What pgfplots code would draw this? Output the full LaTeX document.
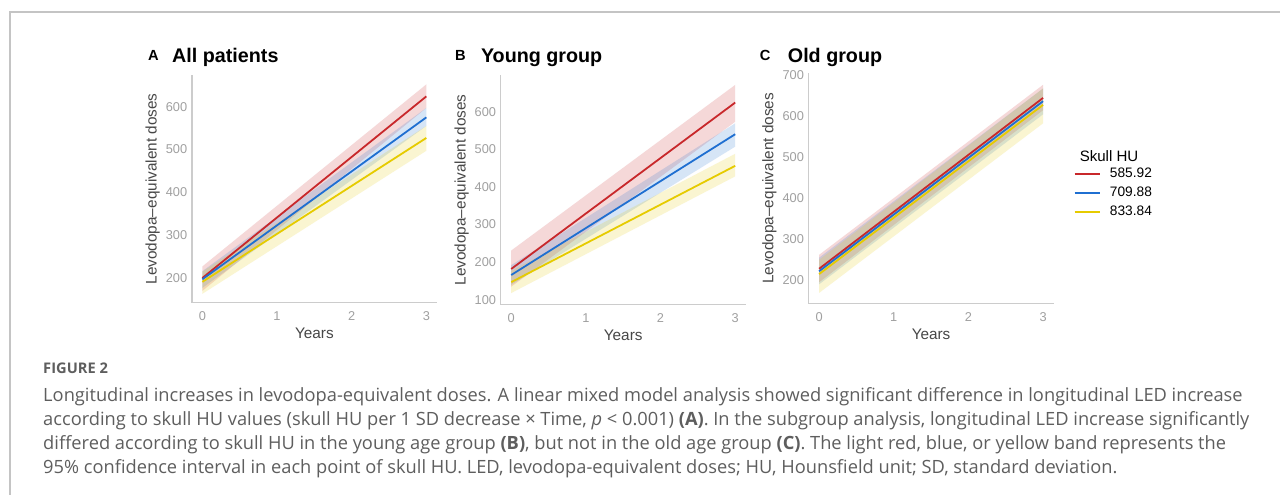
\documentclass[border=0pt]{standalone}
\usepackage{fontspec}
\setmainfont{Liberation Sans}
\newfontfamily\capfont{Open Sans}
\usepackage{pgfplots}
\pgfplotsset{compat=1.18}
\definecolor{cred}{HTML}{C8282B}
\definecolor{cblue}{HTML}{1F6FD1}
\definecolor{cyel}{HTML}{E6CB00}
\definecolor{axgray}{HTML}{CCCCCC}
\definecolor{tickgray}{HTML}{A0A0A0}
\definecolor{labgray}{HTML}{474747}
\definecolor{framegray}{HTML}{C4C4C4}
\definecolor{captext}{HTML}{5E5E5E}
\pgfplotsset{
  panel/.style={
    scale only axis, width=183.75pt, anchor=south west,
    xmin=-0.14, xmax=3.14, xtick={0,1,2,3},
    axis lines=left, axis line style={draw=axgray, line width=0.9pt, -},
    major tick length=0pt,
    tick label style={font=\fontsize{9.6}{10}\selectfont, text=tickgray},
    xticklabel style={yshift=-3pt},
    /pgf/number format/assume math mode=true,
    xlabel={Years}, ylabel={Levodopa–equivalent doses},
    label style={font=\fontsize{11.5}{13}\selectfont, text=labgray},
    xlabel style={at={(axis description cs:0.5,0)}, anchor=north, yshift=-15.5pt},
    ylabel style={at={(axis description cs:-0.16,0.5)}, anchor=center, rotate=0},
    clip=false,
  },
  band/.style={draw=none, fill=#1, fill opacity=0.18, forget plot},
  ln/.style={draw=#1, line width=1.35pt, no marks},
}
\begin{document}
\begin{tikzpicture}
\begin{scope}[x=0.75pt,y=0.75pt]
\fill[white] (0,0) rectangle (1281,495);
\draw[framegray, line width=0.9pt] (10,0) -- (10,483) -- (1281,483);
\end{scope}

% Panel A
\begin{axis}[panel, at={(144pt,144pt)}, height=171pt, ymin=142, ymax=674, ytick={200,300,400,500,600}]
\addplot[band=cred] coordinates {(0,170) (3,597) (3,652) (0,227)} -- cycle;
\addplot[band=cblue] coordinates {(0,177) (3,555) (3,597) (0,216)} -- cycle;
\addplot[band=cyel] coordinates {(0,163) (3,497) (3,555) (0,215)} -- cycle;
\addplot[ln=cred] coordinates {(0,200) (3,624)};
\addplot[ln=cblue] coordinates {(0,197) (3,575)};
\addplot[ln=cyel] coordinates {(0,191) (3,527)};
\end{axis}

% Panel B
\begin{axis}[panel, at={(375.75pt,142.5pt)}, height=172.5pt, ymin=86.7, ymax=697.4, ytick={100,200,300,400,500,600}]
\addplot[band=cred] coordinates {(0,135) (3,573) (3,671) (0,231)} -- cycle;
\addplot[band=cblue] coordinates {(0,140) (3,507) (3,569) (0,192)} -- cycle;
\addplot[band=cyel] coordinates {(0,118) (3,428) (3,488) (0,177)} -- cycle;
\addplot[ln=cred] coordinates {(0,182) (3,624)};
\addplot[ln=cblue] coordinates {(0,166) (3,540)};
\addplot[ln=cyel] coordinates {(0,147) (3,456)};
\end{axis}

% Panel C
\begin{axis}[panel, at={(606.75pt,143.25pt)}, height=173.25pt, ymin=142.4, ymax=705.9, ytick={200,300,400,500,600,700},
  legend style={at={(axis description cs:1.081,0.60)}, anchor=north west, draw=none, fill=none,
    font=\fontsize{10.3}{12}\selectfont, text=black, row sep=1.6pt, inner sep=0pt,
    /tikz/every odd column/.append style={column sep=5pt}},
  legend cell align=left,
  legend image code/.code={\draw[#1, line width=1.5pt] (0pt,0pt) -- (18.75pt,0pt);}]
\addplot[band=cred] coordinates {(0,195) (3,615) (3,677) (0,262)} -- cycle;
\addplot[band=cblue] coordinates {(0,190) (3,605) (3,668) (0,255)} -- cycle;
\addplot[band=cyel] coordinates {(0,169) (3,583) (3,668) (0,250)} -- cycle;
\addplot[ln=cred] coordinates {(0,228) (3,645)};
\addplot[ln=cblue] coordinates {(0,222) (3,637)};
\addplot[ln=cyel] coordinates {(0,215) (3,628)};
\legend{585.92,709.88,833.84}
\end{axis}

\begin{scope}[x=0.75pt,y=0.75pt]
\node[anchor=base west, inner sep=0pt, font=\fontsize{11.3}{12}\selectfont] at (1080,333) {Skull HU};

% titles
\node[anchor=base west, inner sep=0pt, font=\fontsize{11}{12}\selectfont\bfseries] at (148,434) {A};
\node[anchor=base west, inner sep=0pt, font=\fontsize{14.8}{16}\selectfont\bfseries] at (172,432) {All patients};
\node[anchor=base west, inner sep=0pt, font=\fontsize{11}{12}\selectfont\bfseries] at (455,434) {B};
\node[anchor=base west, inner sep=0pt, font=\fontsize{14.8}{16}\selectfont\bfseries] at (481,432) {Young group};
\node[anchor=base west, inner sep=0pt, font=\fontsize{11}{12}\selectfont\bfseries] at (760,434) {C};
\node[anchor=base west, inner sep=0pt, font=\fontsize{14.8}{16}\selectfont\bfseries] at (788,432) {Old group};

% caption
\begin{scope}[every node/.style={anchor=base west, inner sep=0pt, text=captext}]
\node[font=\capfont\fontsize{11}{12}\selectfont\bfseries] at (43,121) {FIGURE 2};
\node[font=\capfont\fontsize{13.7}{15}\selectfont] at (43,93.3) {Longitudinal increases in levodopa-equivalent doses. A linear mixed model analysis showed significant difference in longitudinal LED increase};
\node[font=\capfont\fontsize{13.7}{15}\selectfont] at (43,69.3) {according to skull HU values (skull HU per 1 SD decrease × Time, \textit{p} < 0.001) \textbf{(A)}. In the subgroup analysis, longitudinal LED increase significantly};
\node[font=\capfont\fontsize{13.7}{15}\selectfont] at (43,45.3) {differed according to skull HU in the young age group \textbf{(B)}, but not in the old age group \textbf{(C)}. The light red, blue, or yellow band represents the};
\node[font=\capfont\fontsize{13.7}{15}\selectfont] at (43,21.3) {95\% confidence interval in each point of skull HU. LED, levodopa-equivalent doses; HU, Hounsfield unit; SD, standard deviation.};
\end{scope}
\end{scope}
\end{tikzpicture}
\end{document}
